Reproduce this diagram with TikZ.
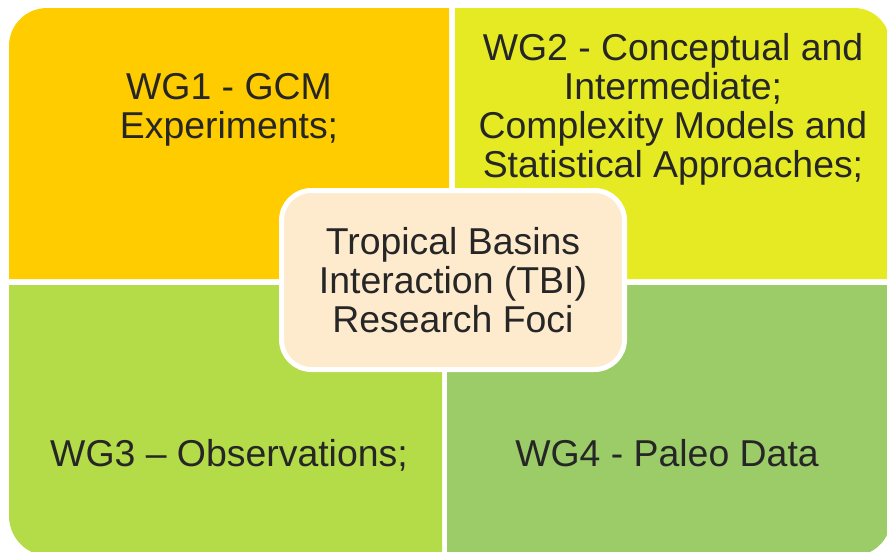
\documentclass[tikz,border=0pt]{standalone}
\usepackage{fontspec}
\setmainfont{Liberation Sans}
\definecolor{wgonefill}{RGB}{255,204,0}
\definecolor{wgtwofill}{RGB}{229,234,35}
\definecolor{wgthreefill}{RGB}{180,219,72}
\definecolor{wgfourfill}{RGB}{155,204,104}
\definecolor{focusfill}{RGB}{254,235,206}
\definecolor{darktext}{RGB}{38,38,38}
\tikzset{
    %Define style for the working group texts
    wgtext/.style={
           anchor=north,
           inner sep=0pt,
           align=center,
           text=darktext,
           font=\fontsize{37.4}{39}\selectfont},
    %Define style for the central box
    focus/.style={
           rectangle,
           rounded corners=30pt,
           draw=white, line width=5pt,
           fill=focusfill,
           minimum width=343pt,
           minimum height=179pt,
           inner sep=0pt,
           align=center,
           text=darktext,
           font=\fontsize{37.4}{39}\selectfont}
}
\begin{document}
\begin{tikzpicture}[x=1pt,y=-1pt]
\useasboundingbox (0,0) rectangle (887,552);
\clip (0,0) rectangle (887,552);
% the four fields
\fill[wgonefill] (9,279) -- (9,46) .. controls (9,25) and (26,8) .. (47,8) -- (449,8) -- (449,279) -- cycle;
\fill[wgtwofill] (455,279) -- (455,8) -- (854,8) .. controls (874,8) and (890,24) .. (890,44) -- (890,279) -- cycle;
\fill[wgthreefill] (9,285) -- (442,285) -- (442,556) -- (49,556) .. controls (27,556) and (9,538) .. (9,516) -- cycle;
\fill[wgfourfill] (447,285) -- (891,285) -- (891,518) .. controls (891,539) and (874,556) .. (853,556) -- (447,556) -- cycle;
% texts
\node[wgtext] (wgone) at (229,73) {WG1 - GCM\\Experiments;};
\node[wgtext] (wgtwo) at (673,33) {WG2 - Conceptual and\\Intermediate;\\Complexity Models and\\Statistical Approaches;};
\node[wgtext] (wgthree) at (229,439) {WG3 – Observations;};
\node[wgtext] (wgfour) at (667,439) {WG4 - Paleo Data};
\node[focus] (tbi) at (453,280) {Tropical Basins\\Interaction (TBI)\\Research Foci};
\end{tikzpicture}
\end{document}
